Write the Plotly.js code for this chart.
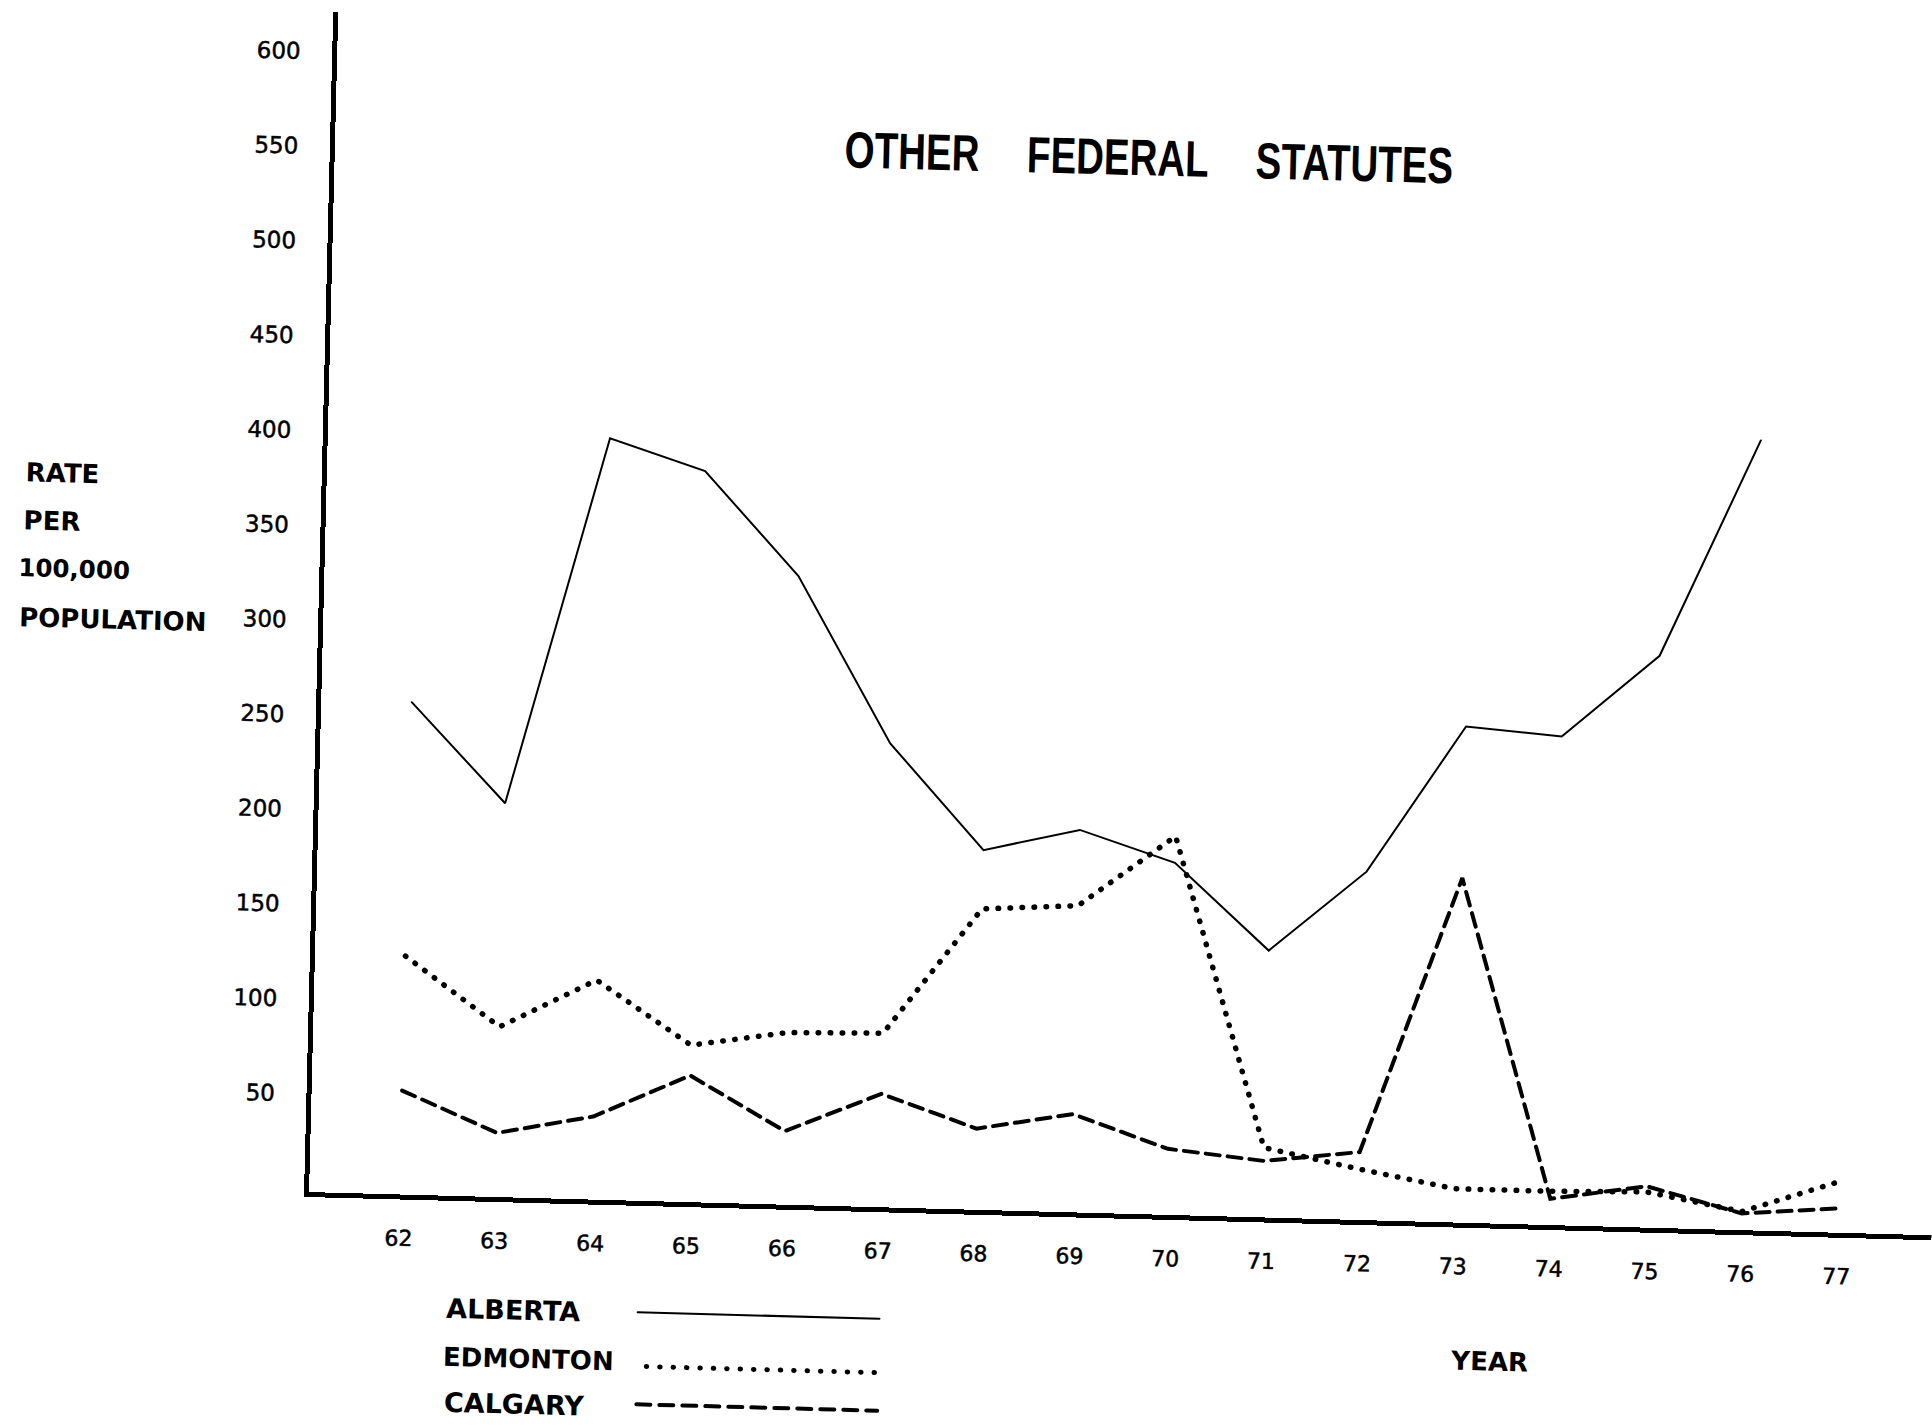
<!DOCTYPE html>
<html>
<head>
<meta charset="utf-8">
<script src="https://cdn.plot.ly/plotly-3.0.1.min.js"></script>
<style>
html,body{margin:0;padding:0;background:#fff;overflow:hidden;width:1932px;height:1426px;}
#chart{position:absolute;left:0;top:0;width:1932px;height:1426px;transform:matrix(0.9997,0.0266,-0.0247,0.9997,0,0);transform-origin:306px 1195px;}
#chart .gtitle{word-spacing:49px;transform-box:fill-box;transform-origin:center;transform:scaleX(0.755);}
#chart .scatterlayer path.js-line{stroke-linecap:round;}
#chart .shapelayer path{stroke-linecap:round;}
#chart .xtick text,#chart .ytick text{stroke:#000;stroke-width:0.5px;}
</style>
</head>
<body>
<div id="chart"></div>
<script>
// ---- data ----
const years = [62,63,64,65,66,67,68,69,70,71,72,73,74,75,76,77];
const yearLabels = ['62','63','64','65','66','67','68','69','70','71','72','73','74','75','76','77'];
const alberta  = [258,206,400,384,330,243,188,200,184,139,182,260,256,300,415,null];
const edmonton = [124, 88,114, 81, 89, 90,157,160,198, 35, 25, 16, 16, 17,  8, 25];
const calgary  = [ 53, 32, 42, 65, 37, 58, 41, 50, 33, 28, 34,180, 12, 20,  7, 11];
const yTickVals = [50,100,150,200,250,300,350,400,450,500,550,600];
const yTickText = ['50','100','150','200','250','300','350','400','450','500','550','600'];
const seriesNames = ['ALBERTA','EDMONTON','CALGARY'];
const yLabelLines = ['RATE','PER','100,000','POPULATION'];
const titleText = 'OTHER FEDERAL STATUTES';
const xTitleText = 'YEAR';

// ---- layout geometry (unrotated frame, pixels) ----
const W = 1932, H = 1426;
const L = 308.5, T = 12, B = 1192.5;       // plot area edges
const PW = W - L, PH = B - T;
const px = X => (X - L) / PW;
const py = Y => (B - Y) / PH;

const black = '#000';
const tickFont = {family: 'DejaVu Sans, Verdana, sans-serif', size: 22, color: black};
const boldFont = (s) => ({family: 'DejaVu Sans, Verdana, sans-serif', size: s, color: black, weight: 'bold'});

const styles = [
  {width: 2, dash: 'solid'},
  {width: 5.5, dash: '0.5px,11.5px'},
  {width: 4, dash: '14px,8px'}
];
const seriesData = [alberta, edmonton, calgary];

const traces = seriesData.map((vals, i) => ({
  type: 'scatter', mode: 'lines', name: seriesNames[i],
  x: years, y: vals, connectgaps: false,
  line: {color: black, width: styles[i].width, dash: styles[i].dash},
  hoverinfo: 'skip'
}));

// y label lines (unrotated pixel positions)
const yLabPos = [[5, 480.5, 26], [4, 528.7, 26], [0.5, 575.4, 24.5], [2, 625.7, 26]];
const annotations = yLabelLines.map((t, i) => ({
  text: t, showarrow: false, xref: 'paper', yref: 'paper',
  x: px(yLabPos[i][0]), y: py(yLabPos[i][1]), xanchor: 'left', yanchor: 'middle',
  font: boldFont(yLabPos[i][2])
}));

// x title
annotations.push({
  text: xTitleText, showarrow: false, xref: 'paper', yref: 'paper',
  x: px(1493), y: py(1331), xanchor: 'center', yanchor: 'middle', font: boldFont(26)
});

// legend labels + samples
const legTextPos = [[447, 1304.7, 27], [444.5, 1353.8, 26], [447, 1399.4, 27]];
const legLinePos = [[640, 882, 1304], [650, 880, 1358], [641, 882, 1396]];
const legStyles = [
  {width: 2, dash: 'solid'},
  {width: 5, dash: '0.5px,12.9px'},
  {width: 4, dash: '14px,9px'}
];
const shapes = [];
seriesNames.forEach((n, i) => {
  annotations.push({
    text: n, showarrow: false, xref: 'paper', yref: 'paper',
    x: px(legTextPos[i][0]), y: py(legTextPos[i][1]), xanchor: 'left', yanchor: 'middle',
    font: boldFont(legTextPos[i][2])
  });
  shapes.push({
    type: 'line', xref: 'paper', yref: 'paper',
    x0: px(legLinePos[i][0]), x1: px(legLinePos[i][1]),
    y0: py(legLinePos[i][2]), y1: py(legLinePos[i][2]),
    line: {color: black, width: legStyles[i].width, dash: legStyles[i].dash}
  });
});

const layout = {
  width: W, height: H,
  margin: {l: L, r: 0, t: T, b: H - B, pad: 0},
  paper_bgcolor: '#fff', plot_bgcolor: 'rgba(0,0,0,0)',
  showlegend: false,
  title: {
    text: titleText, xref: 'container', yref: 'container',
    x: 1123 / W, y: 1 - 135.5 / H, xanchor: 'center', yanchor: 'middle',
    font: {family: 'Liberation Sans, Arial, sans-serif', size: 51, color: black, weight: 'bold'}
  },
  xaxis: {
    range: [61.056, 77.985], tickmode: 'array', tickvals: years, ticktext: yearLabels,
    tickfont: tickFont, showline: true, linecolor: black, linewidth: 5,
    showgrid: false, zeroline: false, ticks: '', ticklabelstandoff: 20, fixedrange: true
  },
  yaxis: {
    range: [-1.85, 620.8], tickmode: 'array', tickvals: yTickVals, ticktext: yTickText,
    tickfont: {family: 'DejaVu Sans, Verdana, sans-serif', size: 23, color: black},
    showline: true, linecolor: black, linewidth: 5,
    showgrid: false, zeroline: false, ticks: '', ticklabelstandoff: 27, fixedrange: true
  },
  annotations: annotations,
  shapes: shapes
};

Plotly.newPlot('chart', traces, layout, {displayModeBar: false, staticPlot: true});
</script>
</body>
</html>
